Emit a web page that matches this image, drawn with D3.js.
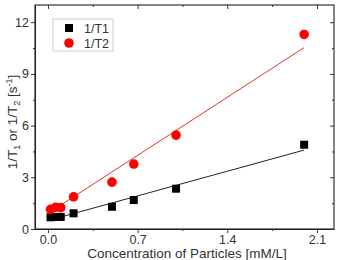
<!DOCTYPE html>
<html>
<head>
<meta charset="utf-8">
<script src="https://cdn.jsdelivr.net/npm/d3@7"></script>
<style>
  body { margin: 0; background: #fff; }
  text { font-family: "Liberation Sans", Arial, sans-serif; fill: #333; }
</style>
</head>
<body>
<div id="chart"></div>
<script>
const width = 340;
const height = 260;
const margin = {top: 5, right: 6, bottom: 31, left: 35};

// data
const concentration = [0.02, 0.06, 0.1, 0.2, 0.5, 0.67, 1.0, 2.0];
const invT1 = [0.68, 0.70, 0.70, 0.91, 1.29, 1.68, 2.34, 4.89];
const invT2 = [1.14, 1.26, 1.24, 1.87, 2.72, 3.77, 5.45, 11.29];
// linear fit lines (end points)
const fitX = [0.02, 2.0];
const fitT1 = [0.53, 4.58];
const fitT2 = [1.0, 10.53];

const xTicks = [0, 0.7, 1.4, 2.1];
const xMinor = [0.35, 1.05, 1.75];
const yTicks = [0, 3, 6, 9, 12];
const yMinor = [1.5, 4.5, 7.5, 10.5];

const x = d3.scaleLinear().domain([-0.101, 2.233]).range([margin.left, width - margin.right]);
const y = d3.scaleLinear().domain([0, 13]).range([height - margin.bottom, margin.top]);

const svg = d3.select('#chart')
    .append('svg')
    .attr('width', width)
    .attr('height', height);

const x0 = margin.left, x1 = width - margin.right;
const y0 = height - margin.bottom, y1 = margin.top;

// axes
svg.append('g')
    .attr('transform', `translate(0,${y0})`)
    .call(d3.axisBottom(x).tickValues(xTicks).tickFormat(d3.format('.1f')).tickSize(4).tickPadding(2).tickSizeOuter(0))
    .call(g => g.selectAll('text').attr('font-size', 12.5));
svg.append('g')
    .attr('transform', `translate(0,${y0})`)
    .call(d3.axisBottom(x).tickValues(xMinor).tickFormat('').tickSize(2).tickSizeOuter(0))
    .call(g => g.select('.domain').remove());
svg.append('g')
    .attr('transform', `translate(0,${y1})`)
    .call(d3.axisBottom(x).tickValues(xTicks).tickFormat('').tickSize(4).tickSizeOuter(0))
    .call(g => g.select('.domain').remove());
svg.append('g')
    .attr('transform', `translate(0,${y1})`)
    .call(d3.axisBottom(x).tickValues(xMinor).tickFormat('').tickSize(2).tickSizeOuter(0))
    .call(g => g.select('.domain').remove());

svg.append('g')
    .attr('transform', `translate(${x0},0)`)
    .call(d3.axisLeft(y).tickValues(yTicks).tickSize(4).tickPadding(2).tickSizeOuter(0))
    .call(g => g.selectAll('text').attr('font-size', 12.5));
svg.append('g')
    .attr('transform', `translate(${x0},0)`)
    .call(d3.axisLeft(y).tickValues(yMinor).tickFormat('').tickSize(2).tickSizeOuter(0))
    .call(g => g.select('.domain').remove());
svg.append('g')
    .attr('transform', `translate(${x1},0)`)
    .call(d3.axisLeft(y).tickValues(yTicks).tickFormat('').tickSize(4).tickSizeOuter(0))
    .call(g => g.select('.domain').remove());
svg.append('g')
    .attr('transform', `translate(${x1},0)`)
    .call(d3.axisLeft(y).tickValues(yMinor).tickFormat('').tickSize(2).tickSizeOuter(0))
    .call(g => g.select('.domain').remove());

svg.selectAll('.tick line').attr('stroke', '#333');

// frame
svg.append('rect')
    .attr('x', x0).attr('y', y1)
    .attr('width', x1 - x0).attr('height', y0 - y1)
    .attr('fill', 'none')
    .attr('stroke', '#333')
    .attr('stroke-width', 1.2);

// fit lines
const line = d3.line().x(d => x(d[0])).y(d => y(d[1]));
svg.append('path')
    .datum(d3.zip(fitX, fitT1))
    .attr('d', line)
    .attr('stroke', '#222')
    .attr('stroke-width', 1)
    .attr('fill', 'none');
svg.append('path')
    .datum(d3.zip(fitX, fitT2))
    .attr('d', line)
    .attr('stroke', '#e8312f')
    .attr('stroke-width', 1)
    .attr('fill', 'none');

// markers
const sq = 8;
svg.append('g')
    .selectAll('rect')
    .data(d3.zip(concentration, invT1))
    .enter()
    .append('rect')
    .attr('x', d => x(d[0]) - sq / 2)
    .attr('y', d => y(d[1]) - sq / 2)
    .attr('width', sq)
    .attr('height', sq)
    .attr('fill', '#000');

svg.append('g')
    .selectAll('circle')
    .data(d3.zip(concentration, invT2))
    .enter()
    .append('circle')
    .attr('cx', d => x(d[0]))
    .attr('cy', d => y(d[1]))
    .attr('r', 4.8)
    .attr('fill', '#ff0000');

// legend
const legend = svg.append('g');
legend.append('rect')
    .attr('x', 53).attr('y', 19)
    .attr('width', 60).attr('height', 32)
    .attr('fill', '#fff')
    .attr('stroke', '#ccc');
legend.append('rect')
    .attr('x', 69 - sq / 2).attr('y', 28 - sq / 2)
    .attr('width', sq).attr('height', sq)
    .attr('fill', '#000');
legend.append('circle')
    .attr('cx', 69).attr('cy', 43)
    .attr('r', 4.8)
    .attr('fill', '#ff0000');
legend.append('text')
    .attr('x', 84).attr('y', 32.5)
    .attr('font-size', 12.5)
    .text('1/T1');
legend.append('text')
    .attr('x', 84).attr('y', 47.5)
    .attr('font-size', 12.5)
    .text('1/T2');

// axis titles
svg.append('text')
    .attr('x', 187)
    .attr('y', 258)
    .attr('text-anchor', 'middle')
    .attr('font-size', 13.5)
    .text('Concentration of Particles [mM/L]');

const yTitle = svg.append('text')
    .attr('transform', `translate(17,122) rotate(-90)`)
    .attr('text-anchor', 'middle')
    .attr('font-size', 13.5);
yTitle.append('tspan').text('1/T');
yTitle.append('tspan').attr('font-size', 9).attr('dy', 3).text('1');
yTitle.append('tspan').attr('dy', -3).text(' or 1/T');
yTitle.append('tspan').attr('font-size', 9).attr('dy', 3).text('2');
yTitle.append('tspan').attr('dy', -3).text(' [s');
yTitle.append('tspan').attr('font-size', 9).attr('dy', -5).text('-1');
yTitle.append('tspan').attr('dy', 5).text(']');
</script>
</body>
</html>
